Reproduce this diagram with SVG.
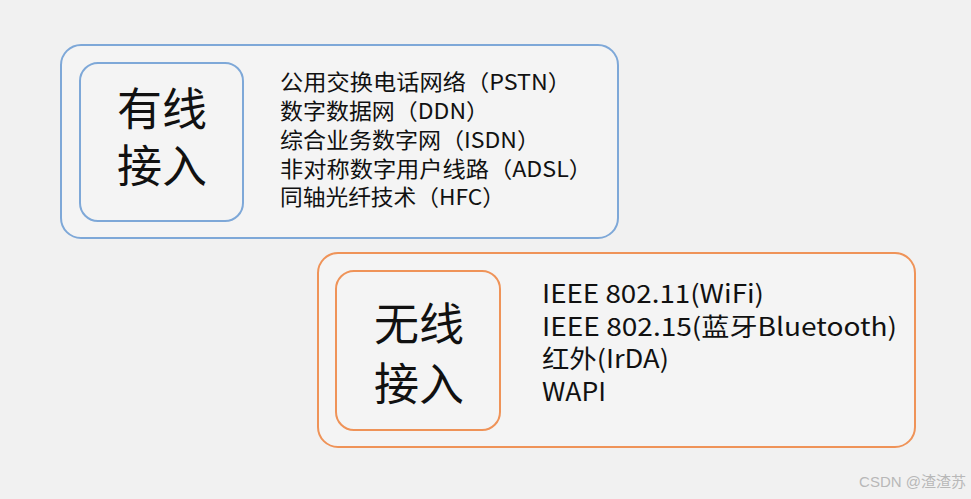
<svg xmlns="http://www.w3.org/2000/svg" width="971" height="499" viewBox="0 0 971 499">
<style>
.t{font-family:"Noto Sans CJK SC","Noto Sans",sans-serif;fill:#111}
.big{font-size:45px;text-anchor:middle}
.s1{font-size:22px}
.s2{font-size:25px}
.blue{fill:#f4f4f4;stroke:#7ea8d8;stroke-width:2}
.orange{fill:#f4f4f4;stroke:#ef9358;stroke-width:2}
.wm{font-family:"Liberation Sans","Noto Sans CJK SC",sans-serif;font-size:15px;fill:#b8b8b8}
</style>
<rect width="971" height="499" fill="#f1f1f1"/>
<g id="wired">
<rect class="blue" x="61" y="45" width="557" height="193" rx="20"/>
<rect class="blue" x="80" y="63" width="163" height="158" rx="18"/>
<text class="t big" x="162" y="126">有线</text>
<text class="t big" x="162" y="183">接入</text>
<text class="t s1" x="280" y="90" textLength="291" lengthAdjust="spacingAndGlyphs">公用交换电话网络（PSTN）</text>
<text class="t s1" x="280" y="119" textLength="209" lengthAdjust="spacingAndGlyphs">数字数据网（DDN）</text>
<text class="t s1" x="280" y="148" textLength="260" lengthAdjust="spacingAndGlyphs">综合业务数字网（ISDN）</text>
<text class="t s1" x="280" y="177" textLength="312" lengthAdjust="spacingAndGlyphs">非对称数字用户线路（ADSL）</text>
<text class="t s1" x="280" y="205" textLength="225" lengthAdjust="spacingAndGlyphs">同轴光纤技术（HFC）</text>
</g>
<g id="wireless">
<rect class="orange" x="318" y="253" width="597" height="194" rx="20"/>
<rect class="orange" x="336" y="271" width="164" height="159" rx="18"/>
<text class="t big" x="419" y="341">无线</text>
<text class="t big" x="419" y="401">接入</text>
<text class="t s2" x="542" y="303" textLength="222" lengthAdjust="spacingAndGlyphs">IEEE 802.11(WiFi)</text>
<text class="t s2" x="542" y="336" textLength="355" lengthAdjust="spacingAndGlyphs">IEEE 802.15(蓝牙Bluetooth)</text>
<text class="t s2" x="542" y="368" textLength="127" lengthAdjust="spacingAndGlyphs">红外(IrDA)</text>
<text class="t s2" x="542" y="401" textLength="64" lengthAdjust="spacingAndGlyphs">WAPI</text>
</g>
<g id="connectors"/>
<text class="wm" x="966" y="487" text-anchor="end">CSDN @渣渣苏</text>
</svg>
